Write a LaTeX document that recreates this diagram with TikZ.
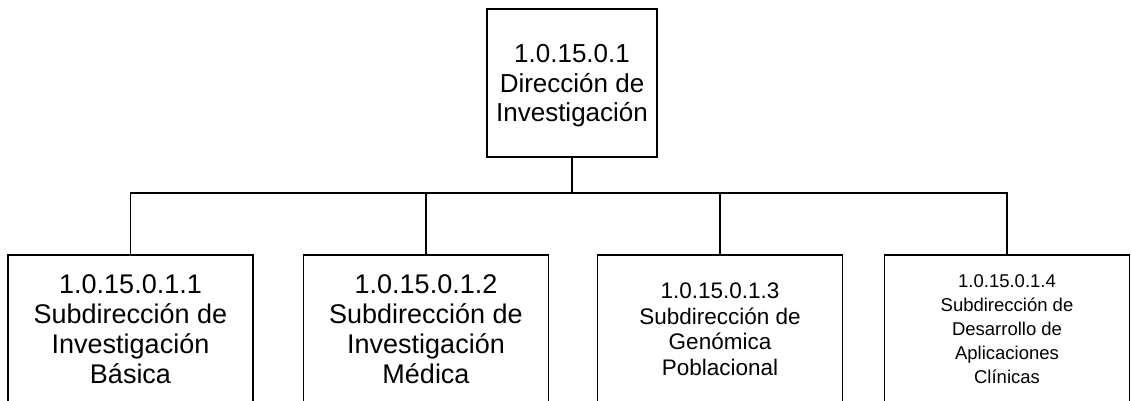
\documentclass[tikz,border=0pt]{standalone}
\usepackage{fontspec}
\setmainfont{Liberation Sans}
\begin{document}
\begin{tikzpicture}[x=1pt,y=-1pt,
  box/.style={draw=black, line width=1.1pt, minimum height=148pt, inner sep=0pt, align=center},
  conn/.style={draw=black, line width=1.1pt}]
\useasboundingbox (0,0) rectangle (1131,400);
\clip (0,0) rectangle (1131,400);
\node[box, minimum width=170pt, text depth=0pt, font=\fontsize{26}{29.5}\selectfont] (top) at (572,83)
  {1.0.15.0.1\\Dirección de\\Investigación};
\node[box, minimum width=245pt, font=\fontsize{27}{30}\selectfont] (b1) at (130.5,329)
  {1.0.15.0.1.1\\Subdirección de\\Investigación\\Básica};
\node[box, minimum width=245pt, font=\fontsize{27}{30}\selectfont] (b2) at (426,329)
  {1.0.15.0.1.2\\Subdirección de\\Investigación\\Médica};
\node[box, minimum width=245pt, font=\fontsize{22.5}{25.5}\selectfont] (b3) at (720,329)
  {1.0.15.0.1.3\\Subdirección de\\Genómica\\Poblacional};
\node[box, minimum width=245pt, font=\fontsize{18.5}{24}\selectfont] (b4) at (1007,329)
  {1.0.15.0.1.4\\Subdirección de\\Desarrollo de\\Aplicaciones\\Clínicas};
\coordinate (bus) at (572,193);
\draw[conn] (top.south) -- (bus);
\draw[conn] (b1.north) |- (bus);
\draw[conn] (b4.north) |- (bus);
\draw[conn] (b2.north) -- (b2.north |- bus);
\draw[conn] (b3.north) -- (b3.north |- bus);
\end{tikzpicture}
\end{document}
